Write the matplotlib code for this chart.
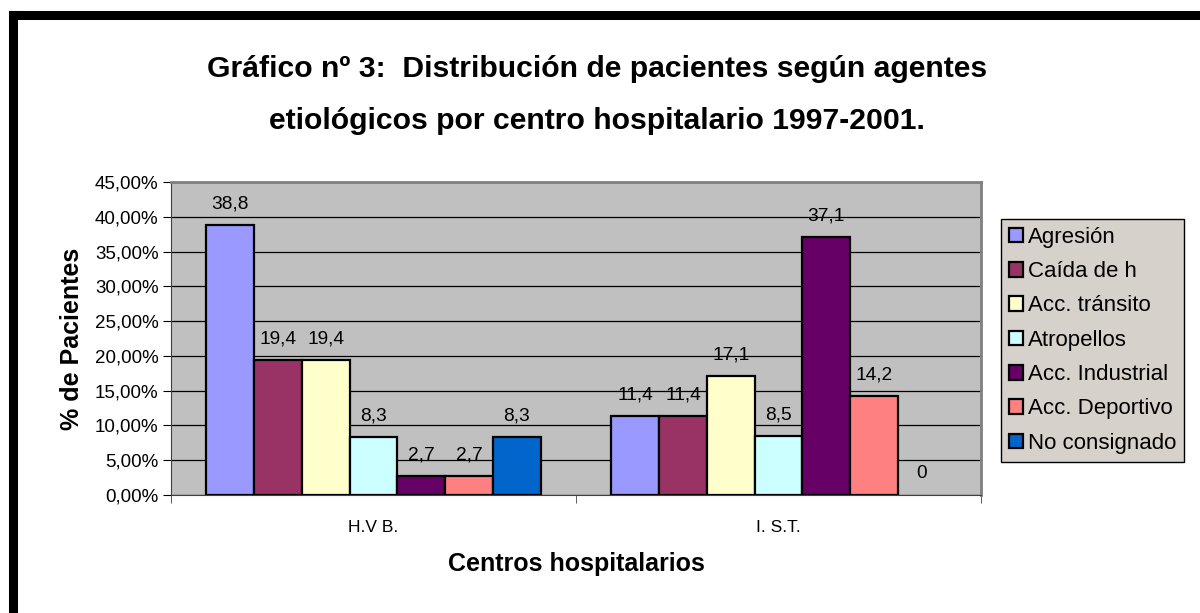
import numpy as np
import matplotlib.pyplot as plt
from matplotlib.lines import Line2D
from matplotlib.ticker import FuncFormatter

plt.rcParams['font.family'] = ['Liberation Sans', 'DejaVu Sans']

centros = ["H.V B.", "I. S.T."]
agentes = ["Agresión", "Caída de h", "Acc. tránsito", "Atropellos",
           "Acc. Industrial", "Acc. Deportivo", "No consignado"]
hvb = [38.8, 19.4, 19.4, 8.3, 2.7, 2.7, 8.3]
ist = [11.4, 11.4, 17.1, 8.5, 37.1, 14.2, 0]
colores = ["#9999FF", "#993366", "#FFFFCC", "#CCFFFF", "#660066", "#FF8080", "#0066CC"]

valores = np.array([hvb, ist])  # filas = centros, columnas = agentes

fig = plt.figure(figsize=(12, 6.13), dpi=100)
ax = fig.add_axes([171/1200, 1-495/613, (981-171)/1200, (495-182)/613])
ax.set_facecolor("#C0C0C0")

nAg = len(agentes)
anchoGrupo = 0.825
ancho = anchoGrupo/nAg
x = np.arange(len(centros))
for i in range(nAg):
    pos = x - anchoGrupo/2 + ancho*(i + 0.5)
    barras = ax.bar(pos, valores[:, i], width=ancho, color=colores[i],
                    edgecolor="black", linewidth=1.6, label=agentes[i], zorder=3)
    for b, v in zip(barras, valores[:, i]):
        if v == 0:
            b.set_linewidth(0)
        txt = ("%.1f" % v).replace(".", ",") if v != 0 else "0"
        ax.annotate(txt, (b.get_x() + b.get_width()/2, v), xytext=(0, 9),
                    textcoords="offset points", ha="center", va="bottom",
                    fontsize=13.8, zorder=4)

ax.set_xlim(-0.5, len(centros) - 0.5)
ax.set_ylim(0, 45)
ax.set_yticks(np.arange(0, 46, 5))
ax.yaxis.set_major_formatter(FuncFormatter(lambda v, p: ("%.2f%%" % v).replace(".", ",")))
ax.yaxis.grid(True, color="black", linewidth=0.9, zorder=1)
ax.set_axisbelow(True)

ax.set_xticks(x)
ax.set_xticklabels(centros, fontsize=12.5)
ax.set_xticks([-0.5, 0.5, 1.5], minor=True)
ax.tick_params(axis="x", which="major", length=0, pad=18)
ax.tick_params(axis="x", which="minor", length=6, color="#404040")
ax.tick_params(axis="y", length=6, labelsize=13.5, pad=3)

for s in ["top", "right"]:
    ax.spines[s].set_color("#808080")
    ax.spines[s].set_linewidth(2)
ax.spines["left"].set_color("#404040")
ax.spines["bottom"].set_color("#404040")

ax.set_xlabel("Centros hospitalarios", fontsize=18, fontweight="bold", labelpad=12)
ax.set_ylabel("% de Pacientes", fontsize=18, fontweight="bold", labelpad=8)

fig.text(597/1200, 1-69/613, "Gráfico nº 3:  Distribución de pacientes según agentes",
         ha="center", va="center", fontsize=21.7, fontweight="bold")
fig.text(597/1200, 1-121/613, "etiológicos por centro hospitalario 1997-2001.",
         ha="center", va="center", fontsize=21.7, fontweight="bold")

leg = ax.legend(loc="upper left", bbox_to_anchor=(1001/1200, 1-219/613),
                bbox_transform=fig.transFigure, fontsize=16, frameon=True,
                fancybox=False, handlelength=0.65, handleheight=0.65,
                handletextpad=0.2, labelspacing=0.6, borderpad=0.35,
                borderaxespad=0)
leg.get_frame().set_facecolor("#D7D1CB")
leg.get_frame().set_edgecolor("black")
leg.get_frame().set_linewidth(1)
leg.get_frame().set_alpha(1)

# marco negro del grafico (izquierda y arriba)
fig.add_artist(Line2D([13/1200, 13/1200], [0, 1-15/613], transform=fig.transFigure,
                      color="black", linewidth=6.5, solid_capstyle="projecting"))
fig.add_artist(Line2D([13/1200, 1.01], [1-15/613, 1-15/613], transform=fig.transFigure,
                      color="black", linewidth=6.5, solid_capstyle="projecting"))

plt.savefig("out.png", dpi=100)
